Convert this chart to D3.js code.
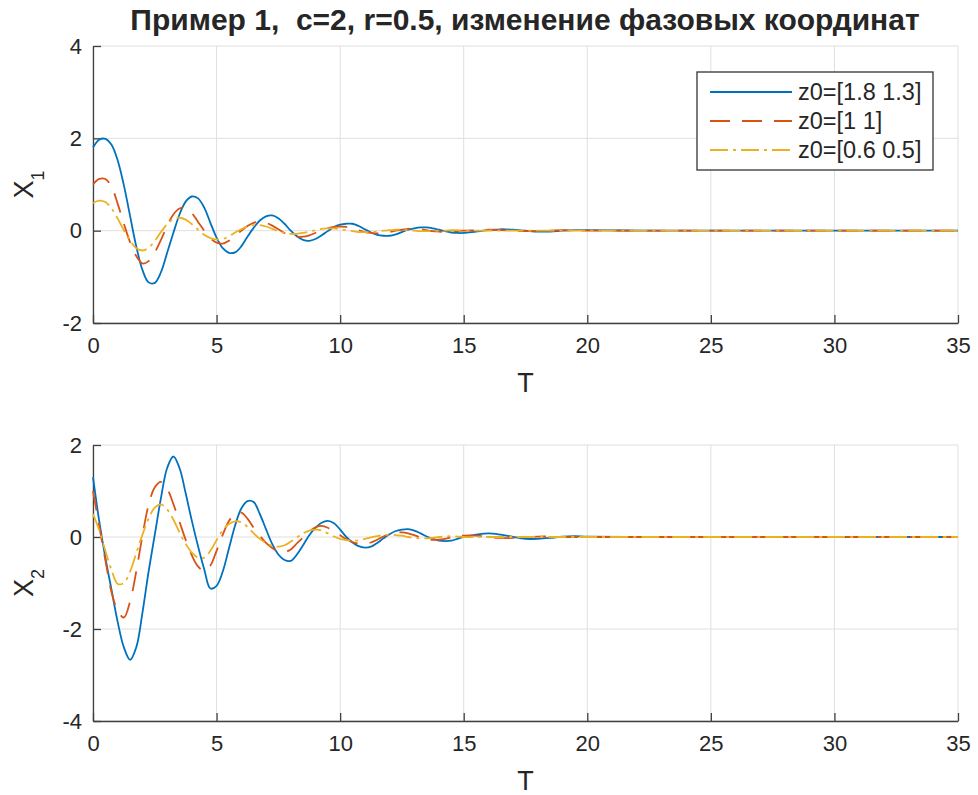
<!DOCTYPE html>
<html lang="ru">
<head>
<meta charset="UTF-8">
<script src="https://d3js.org/d3.v7.min.js"></script>
<title>Пример 1</title>
<style>
  body { margin: 0; background: #fff; }
  text { font-family: "Liberation Sans", Arial, Helvetica, sans-serif; fill: #262626; }
</style>
</head>
<body>
<div id="draw_here"></div>
<script>
var width = 978, height = 795;

// time grid (at 0.25 steps, sparser at the tail)
var T = [0,0.25,0.5,0.75,1,1.25,1.5,1.75,2,2.25,2.5,2.75,3,3.25,3.5,3.75,4,4.25,4.5,4.75,
         5,5.25,5.5,5.75,6,6.25,6.5,6.75,7,7.25,7.5,7.75,8,8.25,8.5,8.75,9,9.25,9.5,9.75,
         10,10.25,10.5,10.75,11,11.25,11.5,11.75,12,12.25,12.5,12.75,13,13.25,13.5,13.75,14,14.25,14.5,14.75,
         15,15.5,16,16.5,17,17.5,18,18.5,19,19.5,20,22.5,25,27.5,30,32.5,35];

// X1, upper panel
var x1Blue = [1.80,1.97,1.99,1.86,1.52,0.98,0.32,-0.34,-0.85,-1.12,-1.13,-0.90,-0.48,-0.05,0.35,0.63,0.74,0.70,0.50,0.17,
              -0.15,-0.38,-0.48,-0.47,-0.34,-0.13,0.06,0.22,0.31,0.33,0.27,0.15,0.00,-0.12,-0.20,-0.22,-0.18,-0.10,-0.01,0.08,
              0.13,0.15,0.15,0.10,0.03,-0.04,-0.09,-0.11,-0.11,-0.08,-0.03,0.02,0.05,0.07,0.07,0.05,0.02,-0.01,-0.04,-0.05,
              -0.05,-0.02,0.01,0.03,0.02,0.00,-0.02,-0.02,0.00,0.01,0.01,0,0,0,0,0,0];
var x1Red = [1.00,1.12,1.12,0.95,0.58,0.15,-0.25,-0.55,-0.71,-0.66,-0.47,-0.20,0.10,0.35,0.48,0.49,0.38,0.19,0.00,-0.16,
             -0.26,-0.28,-0.22,-0.11,0.00,0.10,0.17,0.19,0.17,0.11,0.03,-0.05,-0.10,-0.13,-0.13,-0.10,-0.05,0.00,0.05,0.08,
             0.09,0.08,0.05,0.01,-0.03,-0.05,-0.06,-0.05,-0.03,0.00,0.02,0.04,0.04,0.03,0.01,-0.01,-0.02,-0.03,-0.02,-0.01,
             0.00,0.01,0.02,0.01,0.00,-0.01,-0.01,0.00,0.01,0.00,0.00,0,0,0,0,0,0];
var x1Yellow = [0.60,0.65,0.62,0.48,0.26,0.01,-0.22,-0.38,-0.43,-0.37,-0.22,-0.03,0.14,0.25,0.28,0.24,0.14,0.02,-0.09,-0.16,
                -0.19,-0.18,-0.12,-0.04,0.03,0.09,0.12,0.12,0.09,0.04,-0.01,-0.05,-0.07,-0.07,-0.05,-0.02,0.01,0.04,0.05,0.05,
                0.03,0.01,-0.01,-0.03,-0.03,-0.03,-0.02,0.00,0.01,0.02,0.02,0.01,0.00,-0.01,-0.01,-0.01,0.00,0.00,0.01,0.01,
                0.00,0.00,0.00,0.00,0.00,0.00,0.00,0.00,0.00,0.00,0.00,0,0,0,0,0,0];

// X2, lower panel
var x2Blue = [1.30,0.35,-0.45,-1.15,-1.85,-2.40,-2.67,-2.40,-1.65,-0.75,0.05,0.85,1.50,1.75,1.50,0.95,0.35,-0.20,-0.70,-1.12,
              -1.06,-0.75,-0.25,0.25,0.62,0.78,0.76,0.50,0.17,-0.15,-0.38,-0.50,-0.52,-0.38,-0.18,0.04,0.20,0.31,0.35,0.30,
              0.16,0.00,-0.12,-0.20,-0.23,-0.21,-0.13,-0.03,0.06,0.13,0.16,0.17,0.14,0.08,0.01,-0.04,-0.08,-0.09,-0.08,-0.04,
              0.00,0.05,0.08,0.05,0.00,-0.04,-0.04,-0.02,0.01,0.02,0.01,0,0,0,0,0,0];
var x2Red = [1.00,0.25,-0.50,-1.20,-1.60,-1.75,-1.40,-0.75,0.03,0.70,1.08,1.20,1.05,0.72,0.33,-0.06,-0.40,-0.64,-0.74,-0.62,
             -0.30,0.05,0.35,0.50,0.53,0.40,0.20,0.03,-0.13,-0.24,-0.31,-0.33,-0.27,-0.14,-0.01,0.12,0.21,0.24,0.20,0.12,
             0.04,-0.05,-0.11,-0.14,-0.15,-0.12,-0.06,0.01,0.06,0.09,0.10,0.08,0.04,-0.01,-0.04,-0.06,-0.06,-0.04,-0.01,0.02,
             0.03,0.03,0.00,-0.02,-0.02,0.00,0.01,0.01,0.00,0.00,0.00,0,0,0,0,0,0];
var x2Yellow = [0.50,0.15,-0.30,-0.72,-1.02,-1.00,-0.75,-0.35,0.05,0.40,0.64,0.71,0.60,0.38,0.10,-0.15,-0.34,-0.45,-0.45,-0.30,
                -0.07,0.15,0.28,0.34,0.32,0.22,0.08,-0.04,-0.13,-0.19,-0.21,-0.18,-0.10,-0.01,0.08,0.14,0.16,0.14,0.08,0.01,
                -0.04,-0.07,-0.08,-0.07,-0.04,-0.01,0.02,0.04,0.05,0.04,0.03,0.00,-0.02,-0.03,-0.03,-0.02,0.00,0.01,0.02,0.01,
                0.00,0.00,0.00,0.00,0.00,0.00,0.00,0.00,0.00,0.00,0.00,0,0,0,0,0,0];

var xTicks = [0,5,10,15,20,25,30,35];
var x1Ticks = [-2,0,2,4];
var x2Ticks = [-4,-2,0,2];
var legendLabels = ["z0=[1.8 1.3]", "z0=[1 1]", "z0=[0.6 0.5]"];
var titleText = "Пример 1,  c=2, r=0.5, изменение фазовых координат";

var colors = ["#0072BD", "#D95319", "#EDB120"];
var dashes = [null, "20,12", "18,5,3,5"];
var gridColor = "#dfdfdf";
var axisColor = "#404040";

var svg = d3.select("#draw_here")
    .append("svg")
    .attr("width", width)
    .attr("height", height);

svg.append("rect").attr("width", width).attr("height", height).attr("fill", "#fff");

var x = d3.scaleLinear().domain([0, 35]).range([93, 958]);

function panel(top, bottom, yDomain, yTicks, series, sub) {
    var y = d3.scaleLinear().domain(yDomain).range([bottom, top]);
    var g = svg.append("g");

    // grid
    g.append("g").selectAll("line").data(xTicks).join("line")
        .attr("x1", d => x(d)).attr("x2", d => x(d))
        .attr("y1", top).attr("y2", bottom)
        .attr("stroke", gridColor).attr("stroke-width", 1);
    g.append("g").selectAll("line").data(yTicks).join("line")
        .attr("x1", x.range()[0]).attr("x2", x.range()[1])
        .attr("y1", d => y(d)).attr("y2", d => y(d))
        .attr("stroke", gridColor).attr("stroke-width", 1);

    // axes, ticks inside, plain hyphen minus like matlab
    var fmt = d => String(d);
    var xa = g.append("g")
        .attr("transform", `translate(0,${bottom})`)
        .call(d3.axisBottom(x).tickValues(xTicks).tickFormat(fmt).tickSizeInner(-8).tickSizeOuter(0).tickPadding(14));
    var ya = g.append("g")
        .attr("transform", `translate(${x.range()[0]},0)`)
        .call(d3.axisLeft(y).tickValues(yTicks).tickFormat(fmt).tickSizeInner(-8).tickSizeOuter(0).tickPadding(11));
    [xa, ya].forEach(a => {
        a.select(".domain").attr("stroke", axisColor).attr("stroke-width", 1.3);
        a.selectAll(".tick line").attr("stroke", axisColor).attr("stroke-width", 1.3);
        a.selectAll(".tick text").attr("font-size", 22).attr("fill", "#262626")
            .attr("font-family", '"Liberation Sans", Arial, sans-serif');
    });

    // curves
    var line = d3.line()
        .x((d, i) => x(T[i]))
        .y(d => y(d))
        .curve(d3.curveCatmullRom);
    series.forEach((s, k) => {
        g.append("path").datum(s)
            .attr("d", line)
            .attr("fill", "none")
            .attr("stroke", colors[k])
            .attr("stroke-width", 1.8)
            .attr("stroke-dasharray", dashes[k]);
    });

    // labels
    g.append("text")
        .attr("x", (x.range()[0] + x.range()[1]) / 2)
        .attr("y", bottom + 69)
        .attr("text-anchor", "middle")
        .attr("font-size", 27)
        .text("T");

    var cy = (top + bottom) / 2;
    var lab = g.append("text")
        .attr("transform", `translate(33,${cy}) rotate(-90)`)
        .attr("text-anchor", "middle")
        .attr("font-size", 27);
    lab.append("tspan").text("X");
    lab.append("tspan").attr("font-size", 18).attr("dy", 11).text(sub);

    return y;
}

panel(46, 323, [-2, 4], x1Ticks, [x1Blue, x1Red, x1Yellow], "1");
panel(445, 721, [-4, 2], x2Ticks, [x2Blue, x2Red, x2Yellow], "2");

// legend
var lg = svg.append("g");
lg.append("rect")
    .attr("x", 697).attr("y", 72).attr("width", 236).attr("height", 98)
    .attr("fill", "#fff").attr("stroke", "#333").attr("stroke-width", 1.3);
legendLabels.forEach((t, k) => {
    var ly = 92 + k * 29;
    lg.append("line")
        .attr("x1", 710).attr("x2", 792).attr("y1", ly).attr("y2", ly)
        .attr("stroke", colors[k]).attr("stroke-width", 1.8)
        .attr("stroke-dasharray", dashes[k]);
    lg.append("text")
        .attr("x", 798).attr("y", ly + 8)
        .attr("font-size", 23.5)
        .text(t);
});

// title, keep the double space
svg.append("text")
    .attr("x", 525).attr("y", 30)
    .attr("text-anchor", "middle")
    .attr("font-size", 30)
    .attr("font-weight", "bold")
    .attr("fill", "#000")
    .style("white-space", "pre")
    .attr("xml:space", "preserve")
    .text(titleText);
</script>
</body>
</html>
